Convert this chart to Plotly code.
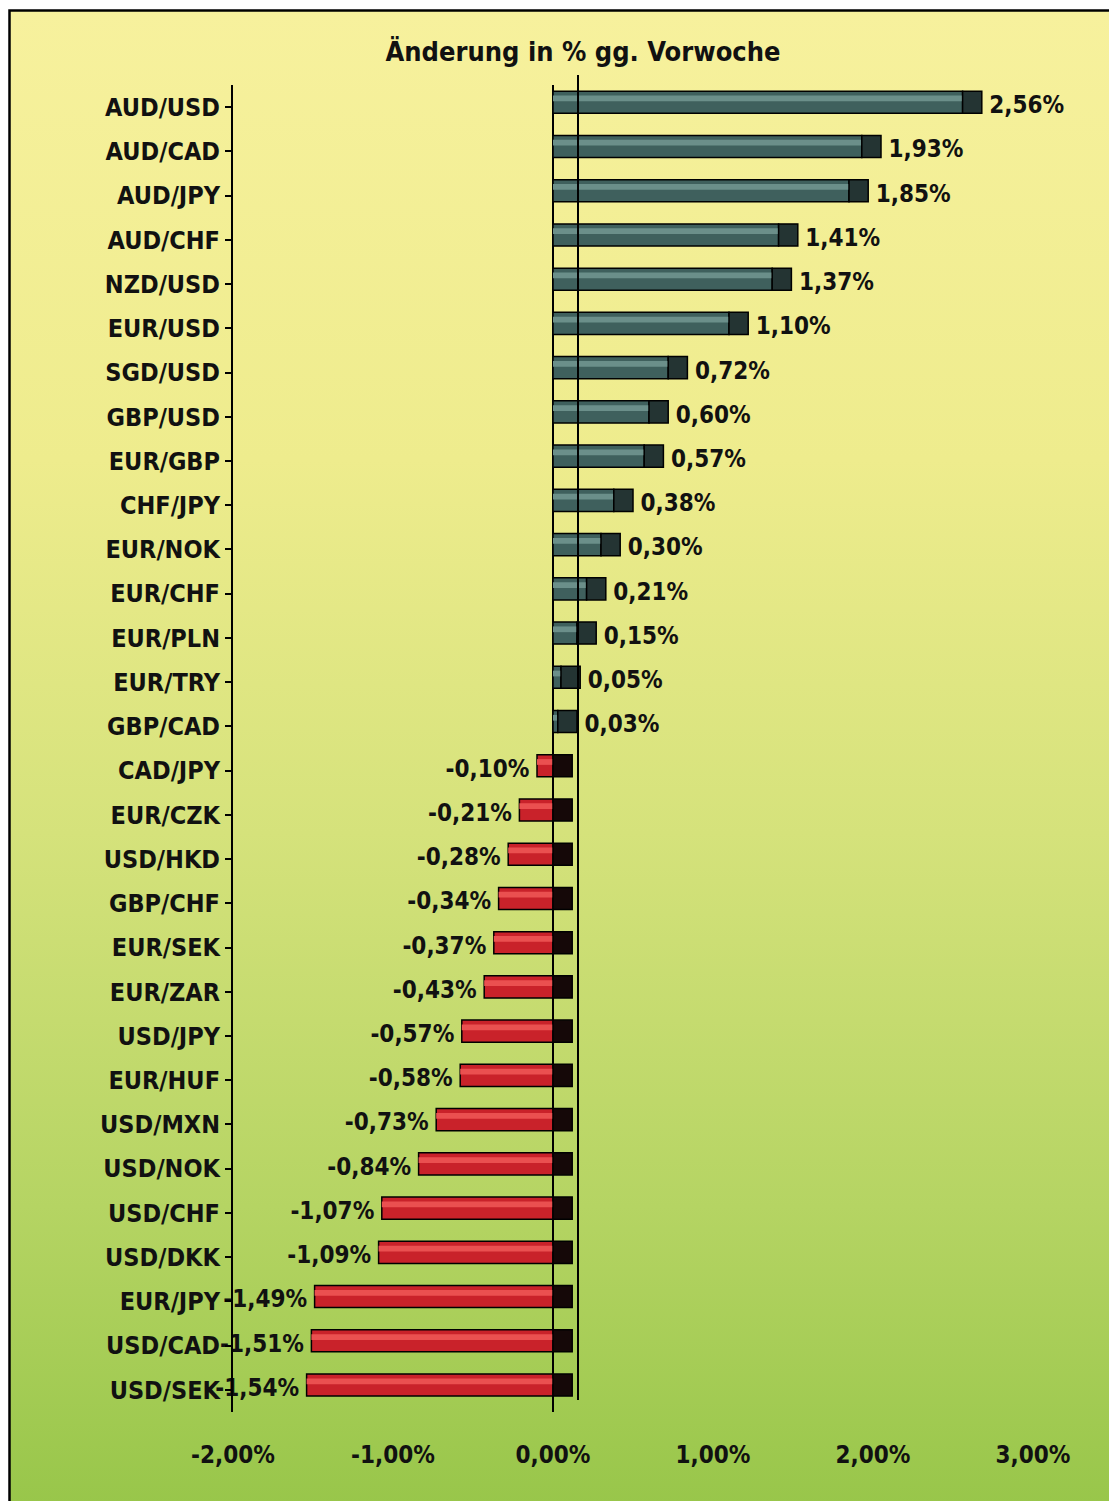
import base64
import plotly.graph_objects as go

# ---------------- data ----------------
pairs = ["AUD/USD", "AUD/CAD", "AUD/JPY", "AUD/CHF", "NZD/USD", "EUR/USD", "SGD/USD",
         "GBP/USD", "EUR/GBP", "CHF/JPY", "EUR/NOK", "EUR/CHF", "EUR/PLN", "EUR/TRY",
         "GBP/CAD", "CAD/JPY", "EUR/CZK", "USD/HKD", "GBP/CHF", "EUR/SEK", "EUR/ZAR",
         "USD/JPY", "EUR/HUF", "USD/MXN", "USD/NOK", "USD/CHF", "USD/DKK", "EUR/JPY",
         "USD/CAD", "USD/SEK"]
changes = [2.56, 1.93, 1.85, 1.41, 1.37, 1.10, 0.72, 0.60, 0.57, 0.38, 0.30, 0.21, 0.15,
           0.05, 0.03, -0.10, -0.21, -0.28, -0.34, -0.37, -0.43, -0.57, -0.58, -0.73,
           -0.84, -1.07, -1.09, -1.49, -1.51, -1.54]
tick_vals = [-2, -1, 0, 1, 2, 3]
tick_text = ["-2,00%", "-1,00%", "0,00%", "1,00%", "2,00%", "3,00%"]
title_text = "Änderung in % gg. Vorwoche"

# ---------------- layout constants ----------------
# the page adds an 8px body margin, so the figure is 8px smaller than the window
W, H = 1109, 1493
ML, MR, MT, MB = 225, 52, 77, 89
PW, PH = W - ML - MR, H - MT - MB
FONT = "DejaVu Sans Condensed, Liberation Sans Narrow, Arial Narrow, sans-serif"

def px_to_paper_x(px):
    return (px - ML) / PW

def px_to_paper_y(py):
    return (H - MB - py) / PH

CAP = 0.12
BW = 0.5
BOFF = -0.36

pos_idx = [i for i, v in enumerate(changes) if v >= 0]
neg_idx = [i for i, v in enumerate(changes) if v < 0]

def fmt(v):
    return f"{v:.2f}".replace(".", ",") + "%"

fig = go.Figure()

def add_group(idx, body, hi, cap, positive):
    ys = [pairs[i] for i in idx]
    xs = [changes[i] for i in idx]
    fig.add_trace(go.Bar(y=ys, x=xs, base=[0] * len(xs), orientation="h", width=BW, offset=BOFF,
                         marker=dict(color=body, line=dict(color="#000000", width=1.5)),
                         hoverinfo="skip", showlegend=False))
    fig.add_trace(go.Bar(y=ys, x=xs, base=[0] * len(xs), orientation="h", width=0.13, offset=BOFF + 0.1,
                         marker=dict(color=hi, line=dict(width=0)),
                         hoverinfo="skip", showlegend=False))
    fig.add_trace(go.Bar(y=ys, x=[CAP] * len(xs), base=(xs if positive else [0] * len(xs)),
                         orientation="h", width=BW, offset=BOFF,
                         marker=dict(color=cap, line=dict(color="#000000", width=1.5)),
                         hoverinfo="skip", showlegend=False))
    if positive:
        tx = [v + CAP for v in xs]
        tp = "middle right"
        txt = [" " + fmt(v) for v in xs]
    else:
        tx = xs
        tp = "middle left"
        txt = [fmt(v) + " " for v in xs]
    fig.add_trace(go.Scatter(y=ys, x=tx, mode="text", text=txt,
                             textposition=tp, cliponaxis=False,
                             textfont=dict(family=FONT, size=24, color="#111111", weight="bold"),
                             hoverinfo="skip", showlegend=False))

add_group(pos_idx, "#3f605d", "#6b8f8a", "#243433", True)
add_group(neg_idx, "#c9222a", "#ea5050", "#150808", False)

# gradient background as svg
svg = ('<svg xmlns="http://www.w3.org/2000/svg" width="100" height="100" preserveAspectRatio="none">'
       '<defs><linearGradient id="g" x1="0" y1="0" x2="0" y2="1">'
       '<stop offset="0" stop-color="#f7f19d"/>'
       '<stop offset="0.3" stop-color="#eeec8d"/>'
       '<stop offset="0.55" stop-color="#d5e27b"/>'
       '<stop offset="0.8" stop-color="#b5d463"/>'
       '<stop offset="1" stop-color="#98c64a"/>'
       '</linearGradient></defs><rect width="100" height="100" fill="url(#g)"/></svg>')
src = "data:image/svg+xml;base64," + base64.b64encode(svg.encode()).decode()

bx0, by0 = 2, 3
fig.add_layout_image(source=src, xref="paper", yref="paper",
                     x=px_to_paper_x(bx0), y=px_to_paper_y(by0),
                     sizex=px_to_paper_x(W + 5) - px_to_paper_x(bx0),
                     sizey=px_to_paper_y(by0) - px_to_paper_y(H + 5),
                     xanchor="left", yanchor="top", sizing="stretch", layer="below")

# border
fig.add_shape(type="rect", xref="paper", yref="paper",
              x0=px_to_paper_x(1.5), x1=px_to_paper_x(W + 10),
              y0=px_to_paper_y(H + 10), y1=px_to_paper_y(2.5),
              line=dict(color="#000000", width=2.5), fillcolor="rgba(0,0,0,0)")
# back wall line (3D depth)
fig.add_shape(type="line", xref="x", yref="paper", xsizemode="pixel", xanchor=0,
              x0=25, x1=25, y0=px_to_paper_y(1392), y1=px_to_paper_y(67),
              line=dict(color="#000000", width=2))

fig.update_layout(
    width=W, height=H,
    margin=dict(l=ML, r=MR, t=MT, b=MB),
    paper_bgcolor="#ffffff",
    plot_bgcolor="rgba(0,0,0,0)",
    barmode="overlay",
    title=dict(text=title_text, x=575 / W, xref="container", xanchor="center",
               y=1 - 44 / H, yref="container", yanchor="middle",
               font=dict(family=FONT, size=27, color="#111111", weight="bold")),
    xaxis=dict(range=[-2, 3.2], tickvals=tick_vals, ticktext=tick_text,
               showgrid=False, zeroline=True, zerolinecolor="#000000", zerolinewidth=2,
               showline=False, ticks="", ticklabelstandoff=26,
               tickfont=dict(family=FONT, size=24, color="#111111", weight="bold")),
    yaxis=dict(type="category", categoryorder="array", categoryarray=pairs,
               range=[len(pairs) - 0.5, -0.5],
               showgrid=False, zeroline=False, showline=True, linecolor="#000000", linewidth=2,
               ticks="outside", ticklen=6, tickcolor="#000000", tickwidth=1.5,
               tickfont=dict(family=FONT, size=25, color="#111111", weight="bold")),
)

fig.write_html("out.html")
